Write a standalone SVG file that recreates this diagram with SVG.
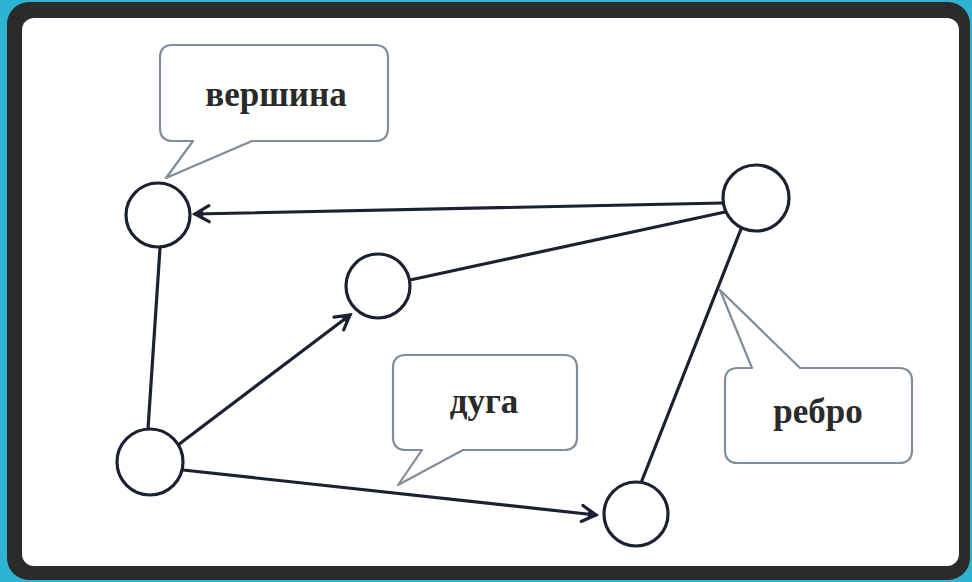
<svg xmlns="http://www.w3.org/2000/svg" width="972" height="582" viewBox="0 0 972 582">
<defs>
<style>
.node{fill:#fff;stroke:#1b2130;stroke-width:3.2}
.edge{fill:none;stroke:#1b2130;stroke-width:3.2;stroke-linecap:round}
.call{fill:#fff;stroke:#7f8d9d;stroke-width:2.2;stroke-linejoin:round}
.lbl{font-family:"Liberation Serif","DejaVu Serif",serif;font-weight:bold;font-size:35px;fill:#2a2a2a;text-anchor:middle}
</style>
<marker id="arr" viewBox="0 0 20 20" refX="17" refY="10" markerWidth="20" markerHeight="20" markerUnits="userSpaceOnUse" orient="auto">
<path d="M3,2 L17,10 L3,18" fill="none" stroke="#1b2130" stroke-width="3.2" stroke-linecap="round" stroke-linejoin="miter"/>
<path d="M9,6.5 L17,10 L9,13.5 Z" fill="#1b2130"/>
</marker>
</defs>
<rect x="0" y="0" width="972" height="582" fill="#2fb3d2"/>
<rect x="7" y="2" width="963" height="578" rx="22" fill="#2b2b2b"/>
<rect x="22" y="18" width="937" height="548" rx="12" fill="#fff"/>

<g id="connectors">
<line class="edge" x1="723" y1="203" x2="195" y2="214" marker-end="url(#arr)"/>
<line class="edge" x1="410" y1="280" x2="725" y2="212"/>
<line class="edge" x1="160" y1="248" x2="148" y2="429"/>
<line class="edge" x1="178" y1="445" x2="350" y2="315" marker-end="url(#arr)"/>
<line class="edge" x1="183" y1="470" x2="596" y2="515" marker-end="url(#arr)"/>
<line class="edge" x1="741" y1="229" x2="641" y2="483"/>
</g>

<g id="callout-vershina">
<path class="call" d="M172,45 H375 Q388,45 388,58 V128 Q388,141 375,141 H252 L166,178 L193,141 H173 Q160,141 160,128 V58 Q160,45 172,45 Z"/>
<text class="lbl" x="276" y="106">вершина</text>
</g>
<g id="callout-duga">
<path class="call" d="M406,355 H564 Q577,355 577,368 V437 Q577,450 564,450 H463 L398,485 L422,450 H406 Q393,450 393,437 V368 Q393,355 406,355 Z"/>
<text class="lbl" x="484" y="413">дуга</text>
</g>
<g id="callout-rebro">
<path class="call" d="M738,368 H752 L720,290 L800,368 H899 Q912,368 912,381 V450 Q912,463 899,463 H738 Q725,463 725,450 V381 Q725,368 738,368 Z"/>
<text class="lbl" x="818" y="423">ребро</text>
</g>

<g id="node-a"><circle class="node" cx="158" cy="215" r="32"/></g>
<g id="node-b"><circle class="node" cx="378" cy="286" r="32"/></g>
<g id="node-c"><circle class="node" cx="756" cy="198" r="33"/></g>
<g id="node-d"><circle class="node" cx="150" cy="462" r="33"/></g>
<g id="node-e"><circle class="node" cx="636" cy="514" r="32"/></g>
</svg>
